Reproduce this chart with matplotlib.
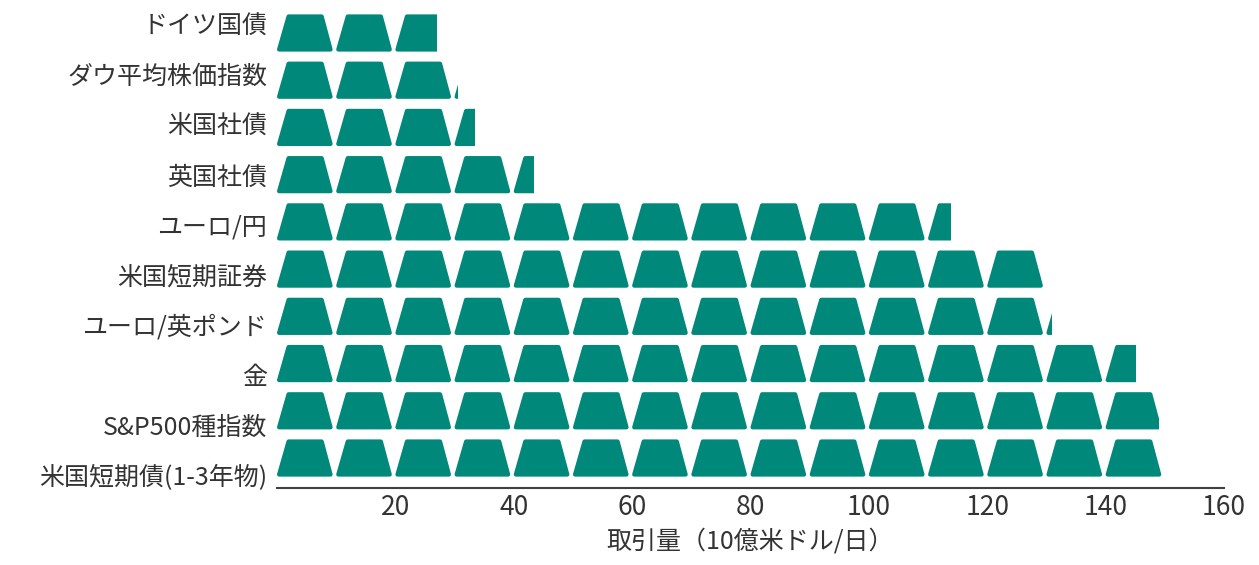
import numpy as np
import matplotlib
matplotlib.use("Agg")
import matplotlib.pyplot as plt
from matplotlib.patches import Polygon, Rectangle

plt.rcParams['font.family'] = ['Noto Sans CJK JP', 'DejaVu Sans']

markets = ['ドイツ国債', 'ダウ平均株価指数', '米国社債', '英国社債', 'ユーロ/円',
           '米国短期証券', 'ユーロ/英ポンド', '金', 'S&P500種指数', '米国短期債(1-3年物)']
volume = [27.0, 30.5, 33.5, 43.5, 113.8, 129.6, 131.0, 145.2, 149.1, 149.6]
xticks = [20, 40, 60, 80, 100, 120, 140, 160]

GOLD = '#00897b'
TEXT = '#333333'
UNIT = 10  # one bar icon = 10 units


def bar_icon(x0, y):
  # trapezoid "gold bar", narrower at the top (y axis is inverted)
  h = 0.35
  return [(x0 + 0.35, y + h), (x0 + 9.05, y + h),
          (x0 + 9.05 - 1.5, y - h), (x0 + 0.35 + 1.6, y - h)]


def draw():
  fig = plt.figure(figsize=(12.59, 5.65), dpi=100)
  ax = fig.add_axes([277/1259, 77/565, 947/1259, 485/565])

  for i, v in enumerate(volume):
    clip = Rectangle((0, i - 0.5), v, 1, transform=ax.transData)
    for k in range(int(np.ceil(v / UNIT))):
      p = Polygon(bar_icon(k * UNIT, i), closed=True, fc=GOLD, ec=GOLD,
                  lw=3, joinstyle='round')
      ax.add_patch(p)
      p.set_clip_path(clip)

  ax.set_xlim(0, 160)
  ax.set_ylim(len(markets) - 1 + 0.635, -0.635)
  ax.set_xticks(xticks)
  ax.set_xticklabels([str(t) for t in xticks])
  # category labels sit on a slightly wider spacing than the icon rows
  ax.set_yticks(-0.19 + 1.061 * np.arange(len(markets)))
  ax.set_yticklabels(markets)
  ax.tick_params(axis='both', length=0, colors=TEXT)
  ax.tick_params(axis='y', pad=7, labelsize=18)
  ax.tick_params(axis='x', pad=4, labelsize=19)
  ax.set_xlabel('取引量（10億米ドル/日）', fontsize=18, color=TEXT, labelpad=6)

  for s in ['top', 'right', 'left']:
    ax.spines[s].set_visible(False)
  ax.spines['bottom'].set_color('#404040')
  ax.spines['bottom'].set_linewidth(1.5)

  fig.savefig('out.png', dpi=100)


if __name__ == '__main__':
  draw()
